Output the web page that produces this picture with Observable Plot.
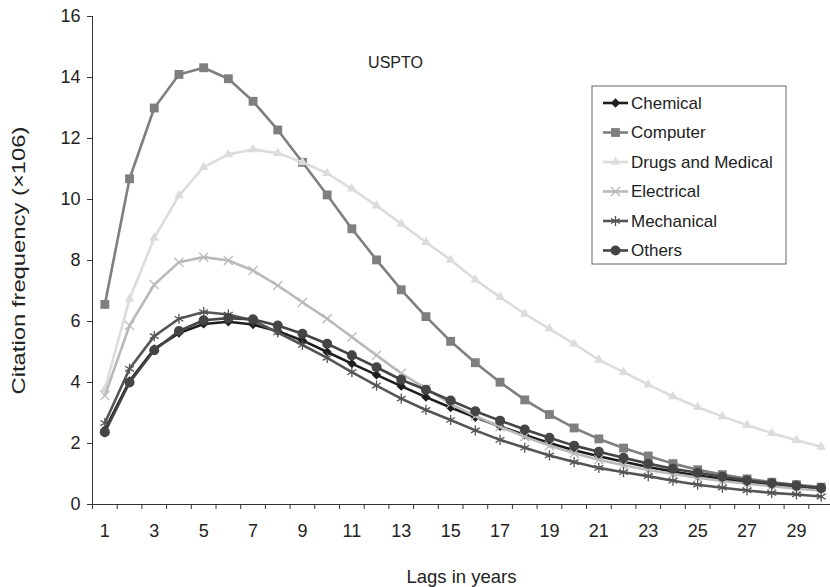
<!DOCTYPE html>
<html>
<head>
<meta charset="utf-8">
<script src="https://cdn.jsdelivr.net/npm/d3@7"></script>
<script src="https://cdn.jsdelivr.net/npm/@observablehq/plot@0.6"></script>
<style>
  html, body { margin: 0; padding: 0; background: #fff; }
  #chart { position: relative; width: 830px; height: 587px; overflow: hidden; }
</style>
</head>
<body>
<div id="chart"></div>
<script>
// ---- data ----
const lags = [1,2,3,4,5,6,7,8,9,10,11,12,13,14,15,16,17,18,19,20,21,22,23,24,25,26,27,28,29,30];
const chemical   = [2.45,4.05,5.10,5.62,5.92,5.99,5.90,5.68,5.38,5.00,4.62,4.25,3.88,3.52,3.18,2.86,2.56,2.28,2.02,1.78,1.58,1.40,1.23,1.08,0.95,0.84,0.74,0.65,0.57,0.50];
const computer   = [6.56,10.68,13.00,14.10,14.32,13.96,13.22,12.28,11.22,10.15,9.04,8.02,7.04,6.16,5.35,4.65,4.01,3.43,2.95,2.51,2.15,1.85,1.59,1.34,1.14,0.98,0.84,0.73,0.65,0.57];
const drugs      = [3.78,6.74,8.74,10.13,11.06,11.48,11.64,11.52,11.22,10.86,10.35,9.80,9.20,8.60,8.02,7.37,6.80,6.25,5.76,5.27,4.74,4.34,3.93,3.54,3.19,2.89,2.60,2.34,2.11,1.89];
const electrical = [3.57,5.87,7.21,7.94,8.11,8.00,7.67,7.18,6.63,6.09,5.49,4.89,4.30,3.80,3.30,2.90,2.55,2.22,1.93,1.68,1.47,1.29,1.13,1.00,0.88,0.77,0.68,0.60,0.52,0.46];
const mechanical = [2.67,4.45,5.52,6.09,6.31,6.23,6.03,5.64,5.23,4.81,4.34,3.90,3.47,3.10,2.77,2.43,2.12,1.86,1.61,1.39,1.20,1.06,0.93,0.78,0.65,0.55,0.46,0.38,0.33,0.26];
const others     = [2.37,4.00,5.06,5.69,6.04,6.11,6.07,5.87,5.60,5.27,4.89,4.50,4.09,3.76,3.41,3.06,2.75,2.46,2.19,1.93,1.73,1.53,1.34,1.17,1.04,0.91,0.79,0.70,0.62,0.54];
const seriesNames = ["Chemical","Computer","Drugs and Medical","Electrical","Mechanical","Others"];
const yTicks = [0,2,4,6,8,10,12,14,16];
const xLabelTicks = [1,3,5,7,9,11,13,15,17,19,21,23,25,27,29];
const xBoundaryTicks = [0.5,1.5,2.5,3.5,4.5,5.5,6.5,7.5,8.5,9.5,10.5,11.5,12.5,13.5,14.5,15.5,16.5,17.5,18.5,19.5,20.5,21.5,22.5,23.5,24.5,25.5,26.5,27.5,28.5,29.5,30.5];
const title = "USPTO";
const xTitle = "Lags in years";
const yTitle = "Citation frequency (\u00d7106)";

// ---- styles ----
const styles = [
  {color: "#1e1e1e", symbol: "diamond2", r: 4.2, filled: true},
  {color: "#7f7f7f", symbol: "square",   r: 5.0, filled: true},
  {color: "#dcdcdc", symbol: "triangle", r: 3.6, filled: true},
  {color: "#b9b9b9", symbol: "times",    r: 4.2, filled: false},
  {color: "#555555", symbol: "asterisk", r: 4.8, filled: false},
  {color: "#454545", symbol: "circle",   r: 5.0, filled: true}
];
const allValues = [chemical, computer, drugs, electrical, mechanical, others];
const tables = allValues.map((vals, i) => lags.map((lag, j) => ({lag, value: vals[j], series: seriesNames[i]})));

const marks = [
  Plot.ruleX([0.5], {stroke: "#333", strokeWidth: 1}),
  Plot.ruleY([0], {stroke: "#333", strokeWidth: 1}),
  Plot.axisY({ticks: yTicks, tickSize: 5, tickPadding: 7, label: null, fontSize: 18, stroke: "#333", fill: "#222"}),
  Plot.axisX({ticks: xBoundaryTicks, tickSize: 5, tickFormat: () => "", label: null, stroke: "#333"}),
  Plot.axisX({ticks: xLabelTicks, tickSize: 0, tickPadding: 20, label: null, fontSize: 18, fill: "#222", className: "xlab"})
];
tables.forEach((t, i) => {
  const s = styles[i];
  marks.push(Plot.line(t, {x: "lag", y: "value", stroke: s.color, strokeWidth: 2.6}));
  if (s.filled) {
    marks.push(Plot.dot(t, {x: "lag", y: "value", symbol: () => s.symbol, r: s.r, fill: s.color, stroke: "none"}));
  } else {
    marks.push(Plot.dot(t, {x: "lag", y: "value", symbol: () => s.symbol, r: s.r, stroke: s.color, strokeWidth: 1.3, fill: "none"}));
  }
});
marks.push(Plot.text([title], {frameAnchor: "top-left", dx: 303, dy: 46, fontSize: 16, fill: "#222", textAnchor: "middle", lineAnchor: "middle"}));
marks.push(Plot.text([xTitle], {frameAnchor: "bottom", dy: 72, fontSize: 19, fill: "#222", textAnchor: "middle", lineAnchor: "middle", className: "xtitle"}));
marks.push(Plot.text([yTitle], {frameAnchor: "left", dx: -74, rotate: -90, fontSize: 19, fill: "#222", textAnchor: "middle", lineAnchor: "middle", className: "ytitle"}));

const chart = Plot.plot({
  width: 830,
  height: 587,
  marginLeft: 92,
  marginRight: 0,
  marginTop: 16,
  marginBottom: 83,
  style: {fontFamily: "'Liberation Sans', Arial, sans-serif", fontSize: "17px", background: "#fff", color: "#222"},
  x: {type: "linear", domain: [0.5, 30.5], range: [92, 833]},
  y: {domain: [0, 16]},
  symbol: {type: "identity"},
  marks
});
document.getElementById("chart").appendChild(chart);

// stretch axis titles to the reference's proportions
const svg = d3.select(chart);
svg.selectAll(".ytitle text").attr("textLength", 268).attr("lengthAdjust", "spacingAndGlyphs");
svg.selectAll(".xtitle text").attr("textLength", 110).attr("lengthAdjust", "spacingAndGlyphs");

// ---- legend (inside plot area) ----
const lg = svg.append("g").attr("transform", "translate(592,86)").attr("text-anchor", "start");
lg.append("rect").attr("width", 194).attr("height", 178).attr("fill", "#fff").attr("stroke", "#666").attr("stroke-width", 1);
const symMap = {diamond2: d3.symbolDiamond2, square: d3.symbolSquare, triangle: d3.symbolTriangle, times: d3.symbolTimes, asterisk: d3.symbolAsterisk, circle: d3.symbolCircle};
seriesNames.forEach((name, i) => {
  const s = styles[i];
  const y = 17 + i * 29.5;
  const row = lg.append("g").attr("transform", `translate(0,${y})`);
  row.append("line").attr("x1", 11).attr("x2", 36).attr("y1", 0).attr("y2", 0).attr("stroke", s.color).attr("stroke-width", 2.6);
  row.append("path")
    .attr("transform", "translate(23.5,0)")
    .attr("d", d3.symbol(symMap[s.symbol], Math.PI * s.r * s.r)())
    .attr("fill", s.filled ? s.color : "none")
    .attr("stroke", s.filled ? "none" : s.color)
    .attr("stroke-width", 1.3);
  row.append("text").attr("x", 39).attr("y", 0).attr("dy", "0.35em")
    .attr("text-anchor", "start")
    .attr("font-size", 17).attr("fill", "#222").text(name);
});
</script>
</body>
</html>
